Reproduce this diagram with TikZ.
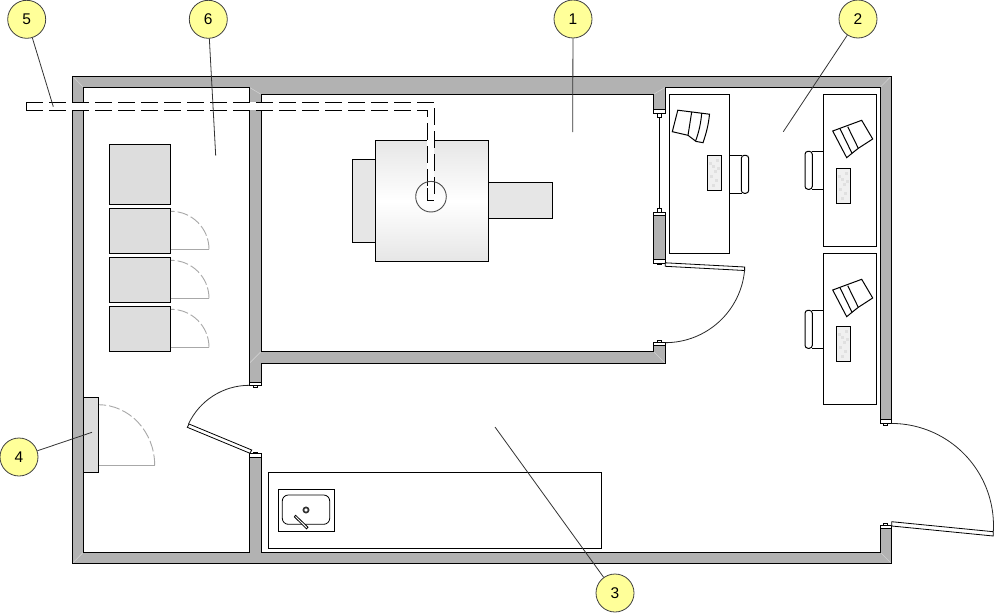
\documentclass[tikz,border=0pt]{standalone}
\usepackage{fontspec}
\setmainfont{Liberation Sans}
\definecolor{WallGray}{HTML}{B2B2B2}
\definecolor{MitreGray}{HTML}{D0D0D0}
\definecolor{CabinetGray}{HTML}{DDDDDD}
\definecolor{MachineGray}{HTML}{E6E6E6}
\definecolor{ScreenGray}{HTML}{F0F0F0}
\definecolor{SwingGray}{HTML}{A8A8A8}
\definecolor{CalloutYellow}{HTML}{FFFF99}
\tikzset{
	planline/.style={black, line width=1pt},
	furniture/.style={planline, fill=white},
	cabinet/.style={planline, fill=CabinetGray},
	screenbox/.style={planline, fill=ScreenGray},
	swingarc/.style={SwingGray, line width=0.9pt, dash pattern=on 11pt off 3pt},
	swingline/.style={SwingGray, line width=0.9pt},
	leaf/.style={black, line width=0.8pt, fill=white},
	conduit/.style={black, line width=1pt, dash pattern=on 17pt off 6pt},
	callout/.style={circle, draw=black!75, line width=0.8pt, fill=CalloutYellow, minimum size=38pt, inner sep=0pt, font=\fontsize{15.5}{18}\selectfont},
	leader/.style={black!80, line width=0.8pt}
}
\begin{document}
\begin{tikzpicture}[x=1pt,y=-1pt]
	\useasboundingbox (0,0) rectangle (994,613);
	% walls
	\fill[WallGray] (72.5,76) rectangle (891.3,563.3);
	\fill[white] (83.3,87.3) rectangle (249.3,552.3);
	\fill[white] (261.3,94.5) rectangle (653.3,351.3);
	\fill[white] (665.3,87.3) -- (880.3,87.3) -- (880.3,552.3) -- (261.3,552.3) -- (261.3,363.3) -- (665.3,363.3) -- cycle;
	\fill[white] (248.5,385.7) rectangle (262,453.7);
	\fill[white] (652.5,113) rectangle (666,212.3);
	\fill[white] (652.5,263.3) rectangle (666,342.3);
	\fill[white] (879.5,423.3) rectangle (892,525.3);
	\foreach \ax/\ay/\bx/\by in {72.5/76/83.3/87.3, 891.3/76/880.3/87.3, 72.5/563.3/83.3/552.3, 891.3/563.3/880.3/552.3, 249.3/87.3/261.3/94.5, 249.3/363.3/261.3/351.3, 665.3/87.3/653.3/94.5, 665.3/363.3/653.3/351.3}
		\draw[MitreGray, line width=0.6pt] (\ax,\ay) -- (\bx,\by);
	\draw[planline] (891.3,423.3) -- (891.3,76) -- (72.5,76) -- (72.5,563.3) -- (891.3,563.3) -- (891.3,525.3);
	\draw[planline] (249.3,385.7) -- (249.3,87.3) -- (83.3,87.3) -- (83.3,552.3) -- (249.3,552.3) -- (249.3,453.7);
	\draw[planline] (653.3,113) -- (653.3,94.5) -- (261.3,94.5) -- (261.3,351.3) -- (653.3,351.3) -- (653.3,342.3);
	\draw[planline] (653.3,212.3) -- (653.3,263.3);
	\draw[planline] (665.3,212.3) -- (665.3,263.3);
	\draw[planline] (261.3,385.7) -- (261.3,363.3) -- (665.3,363.3) -- (665.3,342.3);
	\draw[planline] (665.3,113) -- (665.3,87.3) -- (880.3,87.3) -- (880.3,423.3);
	\draw[planline] (880.3,525.3) -- (880.3,552.3) -- (261.3,552.3) -- (261.3,453.7);
	% wall ends: left, right, wall side, end, tab tip
	\foreach \xa/\xb/\ya/\yb/\yc in {653.3/665.3/109.4/113.2/117.2, 653.3/665.3/215.7/212.3/208.7, 653.3/665.3/259.2/263.3/264.8, 653.3/665.3/345.7/342.3/340, 249.3/261.3/382.7/385.7/387.7, 249.3/261.3/457.3/453.7/452, 880.3/891.3/419.3/423.3/425.3, 880.3/891.3/528.3/525.3/523.3}{
		\draw[furniture] (\xa/2+\xb/2-2,\yb) rectangle (\xa/2+\xb/2+2,\yc);
		\draw[furniture] (\xa,\ya) rectangle (\xb,\yb);
	}
	\draw[black, line width=1.3pt] (659.3,117.2) -- (659.3,208.7);
	% doors
	\draw[leaf] (665.3,262.8) -- (744.6,267) -- (744.6,270.5) -- (665.3,266.3) -- cycle;
	\draw[black!85, line width=0.8pt] (744.6,270) arc[start angle=-5, end angle=-90, radius=79.6pt];
	\draw[leaf] (250,453.3) -- (251.7,450) -- (189,424) -- (187.3,427.3) -- cycle;
	\draw[black!85, line width=0.8pt] (188.5,424) arc[start angle=155, end angle=90, radius=67pt];
	\draw[leaf] (891.7,521.7) -- (993.3,531.7) -- (993.3,536) -- (891.7,526) -- cycle;
	\draw[black!85, line width=0.8pt] (993.3,531.7) arc[start angle=-3.4, end angle=90, radius=102.2pt];
	% cabinets
	\draw[cabinet] (109.3,144.3) rectangle (170.7,204.3);
	\foreach \ya/\yb/\yc/\yd in {208.7/253.3/212/249.3, 257.3/302.3/261.3/298.3, 306.3/351.3/310.3/347.3}{
		\draw[cabinet] (109.3,\ya) rectangle (170.7,\yb);
		\draw[swingline] (170.7,\yd) -- (209,\yd);
		\draw[swingarc] (209,\yd) arc[start angle=0, end angle=90, radius=38pt];
	}
	\draw[swingline] (98.3,465.3) -- (154.7,465.3);
	\draw[swingarc] (154.7,465.3) arc[start angle=0, end angle=90, x radius=56.4pt, y radius=60.6pt];
	\draw[cabinet] (83.3,397.3) rectangle (98.3,472.3);
	% desks
	\draw[furniture] (669.3,94.3) rectangle (729.3,253.3);
	\draw[furniture] (823.3,94.3) rectangle (876.3,246.3);
	\draw[furniture] (823.3,253.3) rectangle (876.3,404.3);
	\draw[planline] (729.3,155.3) -- (742,155.3) (729.3,193.3) -- (742,193.3);
	\draw[furniture, rounded corners=3pt] (741.3,155.3) rectangle (748.7,193.3);
	\draw[planline] (672.3,131.7) -- (677.8,110.2) -- (709.5,114.2) .. controls (708.5,125) and (706,134) .. (703,142.7) -- (696,141.4) -- (688,135.3) -- cycle;
	\draw[planline] (691.7,112) -- (688,135.3) (701.7,113.2) .. controls (701,122) and (699,132) .. (695.5,141.2);
	\foreach \dy in {0,159}{
		\draw[planline, shift={(0,\dy)}] (823.3,151.3) -- (812,151.3) (823.3,189.3) -- (812,189.3);
		\draw[furniture, rounded corners=3pt, shift={(0,\dy)}] (805,151.3) rectangle (812.3,189.3);
		\draw[planline, shift={(0,\dy)}] (832.7,131) -- (861.7,120.3) -- (872.7,139) -- (858.3,148.3) -- (852,153.3) -- (846.7,157.7) -- cycle;
		\draw[planline, shift={(0,\dy)}] (840,128.7) -- (852,153.3) (847.7,126.7) -- (858.3,148.3);
	}
	% screens
	\foreach \sx/\sy in {707.3/155.3, 836.3/168.3, 836.3/326.3}{
		\draw[screenbox] (\sx,\sy) rectangle (\sx+14.4,\sy+35);
		\foreach \ox/\oy in {2/7, 5/10, 9/4, 7/15, 3/20, 8/24, 5/29, 10/12}
			\fill[black!12] (\sx+\ox,\sy+\oy) rectangle (\sx+\ox+2.2,\sy+\oy+3);
	}
	% counter and sink
	\draw[furniture] (268.3,472.3) rectangle (601,548.3);
	\draw[furniture] (278.3,489.3) rectangle (334.7,531.3);
	\draw[planline, line width=0.8pt, rounded corners=6pt] (282.3,495) rectangle (329.7,524.3);
	\draw[black!80, line width=1.7pt, fill=white] (306,510) circle (2.6pt);
	\draw[leaf] (295.6,515.3) -- (308,527.2) -- (306.6,528.9) -- (294.3,516.8) -- cycle;
	% machine
	\draw[planline, fill=MachineGray] (352.3,159.3) rectangle (375.7,242.7);
	\draw[planline, fill=MachineGray] (488.7,182.3) rectangle (552.7,218.3);
	\draw[planline, top color=MachineGray, bottom color=MachineGray, middle color=white] (375.7,140.3) rectangle (488.7,261.3);
	% conduit
	\fill[white] (26.3,102.3) rectangle (434.3,110.3);
	\fill[white] (427.3,102.3) rectangle (434.3,194);
	\draw[planline] (26.3,102.3) -- (26.3,110.3);
	\draw[conduit] (26.3,102.3) -- (434.3,102.3) -- (434.3,194);
	\draw[conduit] (26.3,110.3) -- (427.3,110.3) -- (427.3,190);
	\draw[planline] (427.3,188) -- (427.3,200.7) -- (434.3,200.7);
	\draw[black!70, line width=0.9pt] (431,196.7) circle (15.3pt);
	% callouts
	\node[callout] (call1) at (573,19) {1};
	\coordinate (tip1) at (572.7,132);
	\draw[leader] (call1) -- (tip1);
	\node[callout] (call2) at (858,19) {2};
	\coordinate (tip2) at (783.3,131.7);
	\draw[leader] (call2) -- (tip2);
	\node[callout] (call3) at (615,593) {3};
	\coordinate (tip3) at (495,427);
	\draw[leader] (call3) -- (tip3);
	\node[callout] (call4) at (19,457) {4};
	\coordinate (tip4) at (92,432.3);
	\draw[leader] (call4) -- (tip4);
	\node[callout] (call5) at (26.7,19.3) {5};
	\coordinate (tip5) at (53.3,106.7);
	\draw[leader] (call5) -- (tip5);
	\node[callout] (call6) at (208.3,19.3) {6};
	\coordinate (tip6) at (215.7,155.7);
	\draw[leader] (call6) -- (tip6);
\end{tikzpicture}
\end{document}
